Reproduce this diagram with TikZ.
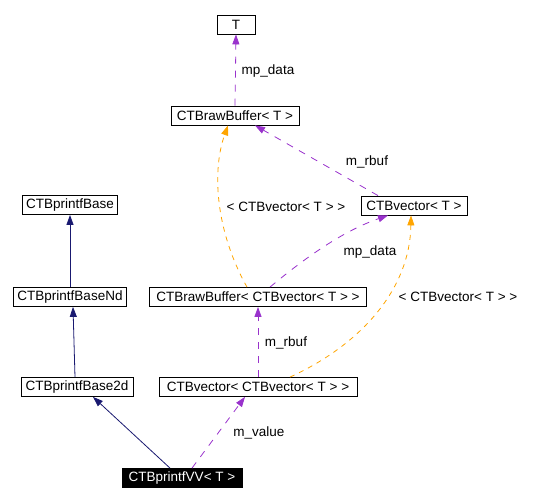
\documentclass[tikz,border=0pt]{standalone}
\usepackage{fontspec}
\setmainfont{Liberation Sans}
\usetikzlibrary{arrows.meta}

\definecolor{inherit}{RGB}{25,25,112}
\definecolor{member}{RGB}{153,50,204}
\definecolor{templ}{RGB}{255,165,0}

\tikzset{
  cls/.style={draw, line width=0.8pt, minimum height=19pt, inner xsep=4pt, inner ysep=0pt, font=\fontsize{13.5}{15}\selectfont},
  lbl/.style={font=\fontsize{13.5}{15}\selectfont},
  tip/.style={-{Triangle[length=10pt,width=7pt]}},
  usesrel/.style={tip, member, line width=0.8pt, dash pattern=on 7pt off 7pt},
  tmplrel/.style={tip, templ, line width=0.8pt, dash pattern=on 5pt off 5pt},
  baserel/.style={tip, inherit, line width=0.8pt}
}

\begin{document}
\begin{tikzpicture}[x=1pt, y=-1pt]
    \useasboundingbox (0,0) rectangle (560,502);

    % Classes
    \node[cls, minimum width=38pt] (T) at (236,24.5) {T};
    \node[cls, minimum width=128pt] (rbT) at (235,115.5) {CTBrawBuffer< T >};
    \node[cls, minimum width=106pt] (vecT) at (414,205.5) {CTBvector< T >};
    \node[cls, minimum width=95pt] (base) at (70,205) {CTBprintfBase};
    \node[cls, minimum width=112pt] (bnd) at (70,297) {CTBprintfBaseNd};
    \node[cls, minimum width=217pt] (rbV) at (258,297) {CTBrawBuffer< CTBvector< T > >};
    \node[cls, minimum width=112pt] (b2d) at (77,387) {CTBprintfBase2d};
    \node[cls, minimum width=198pt] (vecV) at (258,387) {CTBvector< CTBvector< T > >};
    \node[cls, minimum width=120pt, fill=black, text=white] (vv) at (182,478) {CTBprintfVV< T >};

    % Inheritance
    \draw[baserel] (bnd.north) -- (base.south);
    \draw[baserel] ([xshift=-2pt]b2d.north) -- ([xshift=3pt]bnd.south);
    \draw[baserel] ([xshift=-12pt]vv.north) -- ([xshift=16pt]b2d.south);

    % Members
    \draw[usesrel] (rbT.north) -- (T.south);
    \draw[usesrel] ([xshift=-36pt]vecT.north) -- ([xshift=20pt]rbT.south);
    \draw[usesrel] ([xshift=12pt]rbV.north) .. controls (300,262) and (340,232) .. ([xshift=-26pt]vecT.south);
    \draw[usesrel] (vecV.north) -- (rbV.south);
    \draw[usesrel] ([xshift=10pt]vv.north) -- ([xshift=-13pt]vecV.south);

    % Template instances
    \draw[tmplrel] ([xshift=-11pt]rbV.north) .. controls (215,230) and (212,170) .. ([xshift=-7pt]rbT.south);
    \draw[tmplrel] ([xshift=32pt]vecV.north) .. controls (360,345) and (410,290) .. ([xshift=-3pt]vecT.south);

    % Edge labels
    \node[lbl] (l1) at (268,71) {mp\_data};
    \node[lbl] (l2) at (367,162) {m\_rbuf};
    \node[lbl] (l3) at (286,207) {< CTBvector< T > >};
    \node[lbl] (l4) at (370,252) {mp\_data};
    \node[lbl] (l5) at (458,297) {< CTBvector< T > >};
    \node[lbl] (l6) at (286,343) {m\_rbuf};
    \node[lbl] (l7) at (259,433) {m\_value};
\end{tikzpicture}
\end{document}
